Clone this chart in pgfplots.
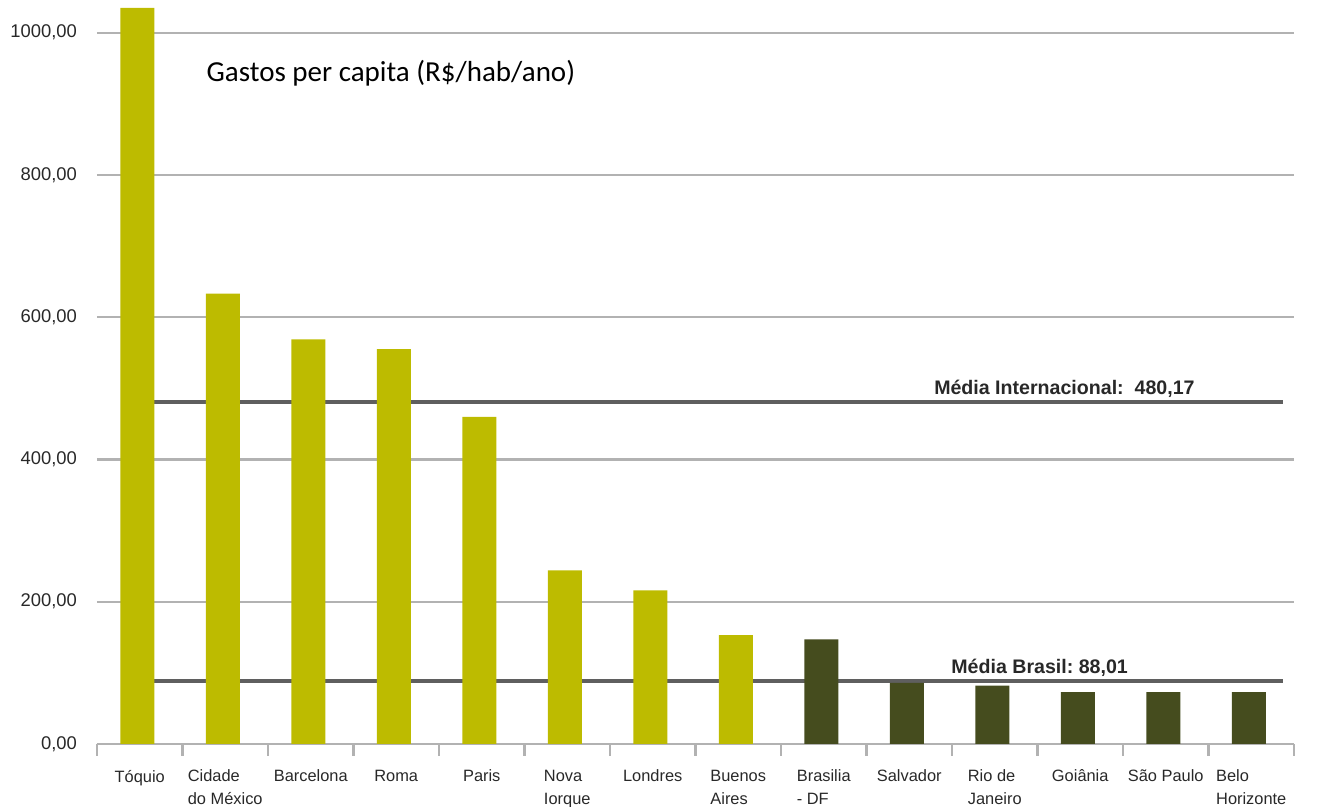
\documentclass[border=0pt]{standalone}
\usepackage{fontspec}
\setmainfont{Liberation Sans}
\newfontfamily\calibri{Carlito}
\usepackage{pgfplots}
\pgfplotsset{compat=1.18}

\definecolor{barlight}{RGB}{189,187,0}
\definecolor{bardark}{RGB}{69,76,30}
\definecolor{gridgray}{RGB}{178,178,178}
\definecolor{avggray}{RGB}{95,95,95}
\definecolor{labelgray}{RGB}{40,40,40}

\begin{document}
\begin{tikzpicture}
\useasboundingbox (-48.5pt,-31.5pt) rectangle (611pt,372pt);
\begin{axis}[
  at={(0pt,0pt)}, anchor=south west,
  width=598.5pt, height=372pt, scale only axis,
  xmin=-0.5, xmax=13.5, ymin=0, ymax=1046,
  axis x line*=bottom, axis y line*=left,
  x axis line style={draw=gridgray, line width=1.2pt},
  y axis line style={draw=none},
  xtick={0,...,13},
  minor xtick={-0.5,0.5,...,13.5},
  major tick length=0pt, minor tick length=6pt,
  tick align=outside,
  minor tick style={draw=gridgray, line width=1.2pt},
  xticklabels={T\'oquio, {Cidade\\do M\'exico}, Barcelona, Roma, Paris,
    {Nova\\Iorque}, Londres, {Buenos\\Aires}, {Brasilia\\- DF}, Salvador,
    {Rio de\\Janeiro}, Goi\^ania, S\~ao Paulo, {Belo\\Horizonte}},
  xticklabel style={font=\fontsize{8.2}{11.5}\selectfont, align=left,
    text=labelgray, yshift=-9.5pt},
  ytick={0,200,...,1000},
  yticklabel style={font=\fontsize{9.2}{10}\selectfont, text=labelgray,
    xshift=-6.5pt},
  /pgf/number format/assume math mode=true,
  yticklabel={\pgfmathprintnumber[fixed, fixed zerofill, precision=2,
    use comma, 1000 sep={}]{\tick}},
  ymajorgrids,
  major grid style={draw=gridgray, line width=1.2pt},
  clip=false,
]
% reference averages, drawn behind the bars
\addplot[draw=avggray, line width=2pt] coordinates {(0,480.17) (13.37,480.17)};
\addplot[draw=avggray, line width=2pt] coordinates {(0,88.01) (13.37,88.01)};

% international cities
\addplot[ybar, bar width=17pt, bar shift=-1.2pt, fill=barlight, draw=none]
  coordinates {(0,1035) (1,633) (2,569) (3,555) (4,460) (5,244) (6,216) (7,153)};
% Brazilian cities
\addplot[ybar, bar width=17pt, bar shift=-1.2pt, fill=bardark, draw=none]
  coordinates {(8,147) (9,86) (10,82) (11,73) (12,73) (13,73)};

\node[anchor=base west, font=\calibri\fontsize{14.5}{17}\selectfont]
  at (axis cs:0.70,931) {Gastos per capita (R\$/hab/ano)};
\node[anchor=base east, font=\bfseries\fontsize{9.8}{11}\selectfont, text=labelgray, yshift=4pt]
  at (axis cs:12.42,480.17) {M\'edia Internacional:\ \ 480,17};
\node[anchor=base east, font=\bfseries\fontsize{9.8}{11}\selectfont, text=labelgray, yshift=4pt]
  at (axis cs:11.64,88.01) {M\'edia Brasil:\ 88,01};
\end{axis}
\end{tikzpicture}
\end{document}
